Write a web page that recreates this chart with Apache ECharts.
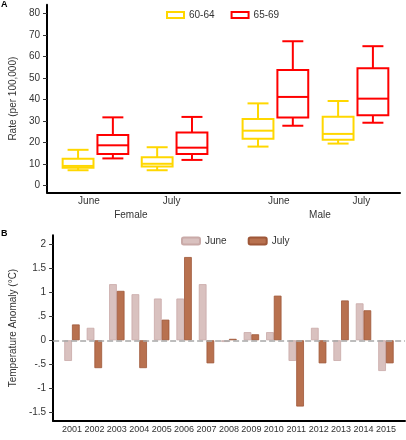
<!DOCTYPE html>
<html><head><meta charset="utf-8">
<script src="https://cdn.jsdelivr.net/npm/echarts@6/dist/echarts.min.js"></script>
<style>html,body{margin:0;padding:0;background:#fff}#c{width:406px;height:440px}</style>
</head><body><div id="c"></div>
<script>
// Panel A data
var boxCats = ['Female June', 'Female July', 'Male June', 'Male July'];
var boxPos = [0.6125, 1.6125, 2.8875, 3.9];
var age6064 = [[7, 8.2, 9, 12.4, 16.5], [7, 8.7, 10, 13, 17.7], [18, 21.7, 25.4, 30.8, 38.1], [19.4, 21.2, 23.9, 31.9, 39.2]];
var age6569 = [[12.5, 14.6, 18.6, 23.4, 31.6], [11.8, 14.6, 17.5, 24.5, 31.8], [27.7, 31.5, 41.1, 53.6, 67], [29.1, 32.6, 40.3, 54.4, 64.7]];
var monthTickPos = [0.53, 1.575, 2.93, 3.975];
var monthTickLabels = ['June', 'July', 'June', 'July'];
var groupTickPos = [1.06, 3.45];
var groupTickLabels = ['Female', 'Male'];
var rateTicks = [0, 10, 20, 30, 40, 50, 60, 70, 80];
// Panel B data
var years = [2001, 2002, 2003, 2004, 2005, 2006, 2007, 2008, 2009, 2010, 2011, 2012, 2013, 2014, 2015];
var juneAnom = [-0.43, 0.26, 1.17, 0.96, 0.87, 0.87, 1.17, -0.035, 0.17, 0.17, -0.43, 0.26, -0.43, 0.77, -0.64];
var julyAnom = [0.33, -0.58, 1.03, -0.58, 0.43, 1.735, -0.48, 0.03, 0.125, 0.93, -1.38, -0.48, 0.83, 0.625, -0.48];
var anomTicks = [-1.5, -1, -0.5, 0, 0.5, 1, 1.5, 2];

var FONT = 'Liberation Sans';
var boxW = 0.39, dodge = 0.22, capFrac = 0.68;

function makeBoxRender(color, off) {
  return function (params, api) {
    var x = api.value(0) + off;
    var mn = api.coord([x, api.value(1)]);
    var q1 = api.coord([x, api.value(2)]);
    var md = api.coord([x, api.value(3)]);
    var q3 = api.coord([x, api.value(4)]);
    var mx = api.coord([x, api.value(5)]);
    var w = api.size([boxW, 0])[0];
    var cw = w * capFrac;
    var cx = mn[0];
    var st = {stroke: color, lineWidth: 2, fill: null};
    return {type: 'group', children: [
      {type: 'line', shape: {x1: cx, y1: mx[1], x2: cx, y2: q3[1]}, style: st},
      {type: 'line', shape: {x1: cx, y1: q1[1], x2: cx, y2: mn[1]}, style: st},
      {type: 'line', shape: {x1: cx - cw / 2, y1: mx[1], x2: cx + cw / 2, y2: mx[1]}, style: st},
      {type: 'line', shape: {x1: cx - cw / 2, y1: mn[1], x2: cx + cw / 2, y2: mn[1]}, style: st},
      {type: 'rect', shape: {x: cx - w / 2, y: q3[1], width: w, height: q1[1] - q3[1]}, style: {stroke: color, lineWidth: 2, fill: 'rgba(255,255,255,0)'}},
      {type: 'line', shape: {x1: cx - w / 2, y1: md[1], x2: cx + w / 2, y2: md[1]}, style: st}
    ]};
  };
}
function boxData(arr) {
  return arr.map(function (d, i) { return [boxPos[i]].concat(d); });
}

var lblStyle = {fontFamily: FONT, fontSize: 10, color: '#333'};

var option = {
  animation: false,
  textStyle: {fontFamily: FONT},
  title: [
    {text: 'A', left: 1, top: 0, padding: 0, textStyle: {fontFamily: FONT, fontSize: 9, fontWeight: 'bold', color: '#000'}},
    {text: 'B', left: 1, top: 229, padding: 0, textStyle: {fontFamily: FONT, fontSize: 9, fontWeight: 'bold', color: '#000'}}
  ],
  legend: [
    {left: 166, top: 10, itemWidth: 17, itemHeight: 6, itemGap: 16, padding: 0,
      textStyle: {fontFamily: FONT, fontSize: 10, color: '#333'},
      data: [
        {name: '60-64', icon: 'rect', itemStyle: {color: '#fff', borderColor: '#FFD700', borderWidth: 2}},
        {name: '65-69', icon: 'rect', itemStyle: {color: '#fff', borderColor: '#FF0000', borderWidth: 2}}
      ]},
    {left: 181, top: 236, itemWidth: 18, itemHeight: 7, itemGap: 21, padding: 0,
      textStyle: {fontFamily: FONT, fontSize: 10, color: '#333'},
      data: ['June', 'July']}
  ],
  grid: [
    {left: 43, right: 6, top: 4.7, bottom: 247.4},
    {left: 49.3, right: 1, top: 235.2, bottom: 19.1}
  ],
  xAxis: [
    {gridIndex: 0, type: 'value', min: 0, max: 4.4625,
      axisLine: {show: true, onZero: false, lineStyle: {color: '#000', width: 2}},
      axisTick: {show: false}, splitLine: {show: false},
      axisLabel: Object.assign({margin: 4, customValues: monthTickPos,
        formatter: function (v) { var i = monthTickPos.indexOf(v); return i >= 0 ? monthTickLabels[i] : ''; }}, lblStyle)},
    {gridIndex: 0, type: 'value', min: 0, max: 4.4625, position: 'bottom',
      axisLine: {show: false}, axisTick: {show: false}, splitLine: {show: false},
      axisLabel: {margin: 18, fontFamily: FONT, fontSize: 10, color: '#333', customValues: groupTickPos,
        formatter: function (v) { var i = groupTickPos.indexOf(v); return i >= 0 ? groupTickLabels[i] : ''; }}},
    {gridIndex: 1, type: 'value', min: 2000.16, max: 2015.85,
      axisLine: {show: true, onZero: false, lineStyle: {color: '#000', width: 2}},
      axisTick: {show: false}, splitLine: {show: false},
      axisLabel: {margin: 4, fontFamily: FONT, fontSize: 9, color: '#333', customValues: years, formatter: function (v) { return String(v); }}}
  ],
  yAxis: [
    {gridIndex: 0, type: 'value', min: -3.4, max: 84,
      name: 'Rate (per 100,000)', nameLocation: 'middle', nameGap: 25,
      nameTextStyle: {fontFamily: FONT, fontSize: 10, color: '#333'},
      axisLine: {show: true, onZero: false, lineStyle: {color: '#000', width: 2}},
      axisTick: {show: true, length: 4, customValues: rateTicks, lineStyle: {color: '#333', width: 1}},
      splitLine: {show: false},
      axisLabel: Object.assign({margin: 7, customValues: rateTicks}, lblStyle)},
    {gridIndex: 1, type: 'value', min: -1.68, max: 2.19,
      name: 'Temperature Anomaly (°C)', nameLocation: 'middle', nameGap: 28,
      nameTextStyle: {fontFamily: FONT, fontSize: 10, color: '#333'},
      axisLine: {show: true, onZero: false, lineStyle: {color: '#000', width: 2}},
      axisTick: {show: true, length: 4, customValues: anomTicks, lineStyle: {color: '#333', width: 1}},
      splitLine: {show: false},
      axisLabel: Object.assign({margin: 7, customValues: anomTicks,
        formatter: function (v) { var s = String(v); return s.replace('0.', '.'); }}, lblStyle)}
  ],
  series: [
    {name: '60-64', type: 'custom', xAxisIndex: 0, yAxisIndex: 0, renderItem: makeBoxRender('#FFD700', -dodge),
      itemStyle: {color: '#fff', borderColor: '#FFD700'}, encode: {x: 0, y: [1, 2, 3, 4, 5]}, data: boxData(age6064), clip: false},
    {name: '65-69', type: 'custom', xAxisIndex: 0, yAxisIndex: 0, renderItem: makeBoxRender('#FF0000', dodge),
      itemStyle: {color: '#fff', borderColor: '#FF0000'}, encode: {x: 0, y: [1, 2, 3, 4, 5]}, data: boxData(age6569), clip: false},
    {name: 'June', type: 'bar', xAxisIndex: 2, yAxisIndex: 1, barWidth: 7.7, barGap: '0%',
      itemStyle: {color: '#D9C1BF', borderColor: '#C9AAA8', borderWidth: 0.8},
      data: years.map(function (y, i) { return [y, juneAnom[i]]; }),
      markLine: {silent: true, symbol: 'none', label: {show: false},
        lineStyle: {color: '#A8A8A8', type: [6, 3], width: 1.5}, data: [{yAxis: 0}]}, z: 1},
    {name: 'July', type: 'bar', xAxisIndex: 2, yAxisIndex: 1, barWidth: 7.7, barGap: '0%',
      itemStyle: {color: '#B8714F', borderColor: '#9E5738', borderWidth: 0.8},
      data: years.map(function (y, i) { return [y, julyAnom[i]]; }), z: 2}
  ]
};
var chart = echarts.init(document.getElementById('c'), null, {renderer: 'canvas'});
chart.setOption(option);
</script>
</body></html>
